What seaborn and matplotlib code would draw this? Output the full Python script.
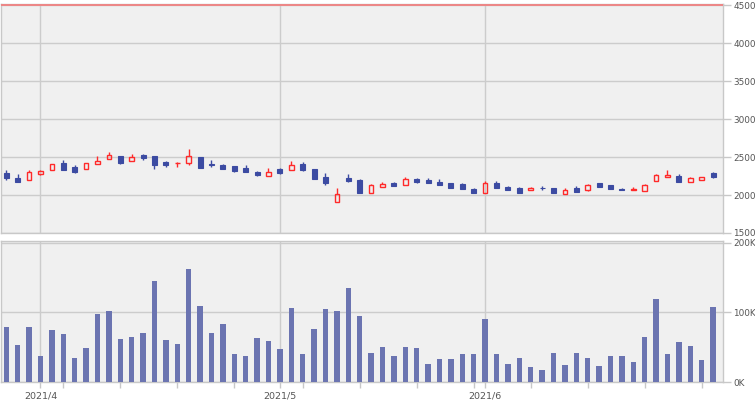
import matplotlib
matplotlib.use("Agg")
import matplotlib.pyplot as plt
import numpy as np
import pandas as pd
import seaborn as sns

# ---- data ----
holidays = ["2021-04-29", "2021-05-03", "2021-05-04", "2021-05-05"]
dates = [d for d in pd.bdate_range("2021-03-29", "2021-06-29")
         if d.strftime("%Y-%m-%d") not in holidays]

opens = [2289, 2224, 2202, 2281, 2325, 2421, 2368, 2338, 2412, 2469,
         2513, 2452, 2526, 2513, 2434, 2417, 2421, 2500, 2408, 2395,
         2382, 2355, 2303, 2254, 2338, 2333, 2408, 2342, 2237, 1912,
         2224, 2197, 2031, 2101, 2158, 2136, 2211, 2197, 2171, 2158,
         2145, 2079, 2031, 2158, 2105, 2092, 2061, 2097, 2092, 2018,
         2092, 2066, 2158, 2132, 2079, 2070, 2057, 2180, 2232, 2250,
         2175, 2197, 2289]
highs = [2329, 2276, 2329, 2329, 2403, 2461, 2395, 2417, 2513, 2566,
         2513, 2539, 2539, 2513, 2447, 2434, 2599, 2500, 2461, 2408,
         2382, 2395, 2316, 2355, 2355, 2447, 2434, 2342, 2289, 2092,
         2276, 2211, 2145, 2171, 2171, 2237, 2224, 2224, 2211, 2158,
         2158, 2092, 2184, 2184, 2118, 2105, 2105, 2118, 2092, 2092,
         2118, 2145, 2158, 2132, 2092, 2105, 2145, 2276, 2329, 2276,
         2232, 2241, 2303]
lows = [2202, 2175, 2202, 2268, 2325, 2329, 2289, 2338, 2412, 2469,
        2408, 2452, 2465, 2346, 2373, 2373, 2395, 2355, 2368, 2342,
        2303, 2307, 2254, 2254, 2281, 2333, 2320, 2211, 2132, 1912,
        2171, 2031, 2031, 2101, 2123, 2136, 2158, 2158, 2132, 2092,
        2079, 2026, 2031, 2097, 2070, 2031, 2061, 2066, 2031, 2018,
        2039, 2053, 2110, 2075, 2066, 2070, 2057, 2180, 2232, 2175,
        2175, 2197, 2224]
closes = [2228, 2175, 2303, 2311, 2403, 2329, 2307, 2417, 2443, 2526,
          2421, 2500, 2487, 2395, 2395, 2425, 2513, 2355, 2395, 2342,
          2316, 2307, 2268, 2298, 2289, 2395, 2333, 2211, 2158, 2013,
          2184, 2031, 2132, 2145, 2123, 2211, 2171, 2158, 2132, 2092,
          2079, 2026, 2158, 2097, 2070, 2031, 2092, 2088, 2031, 2066,
          2039, 2132, 2110, 2075, 2066, 2079, 2132, 2263, 2263, 2175,
          2219, 2232, 2237]
volumes = [78600, 52900, 78600, 37100, 74300, 68600, 34300, 48600, 97100, 101400,
           61400, 64300, 70000, 145700, 60000, 54300, 162900, 108600, 70000, 82900,
           40000, 37100, 62900, 58600, 47100, 105700, 40000, 75700, 104300, 101400,
           135700, 94300, 41400, 50000, 37100, 50000, 48600, 25700, 32900, 32900,
           40000, 40000, 90000, 40000, 25700, 34300, 21400, 17100, 41400, 24300,
           41400, 34300, 22900, 37100, 37100, 28600, 64300, 118600, 40000, 57100,
           51400, 31400, 107100]
price_ticks = [1500, 2000, 2500, 3000, 3500, 4000, 4500]
volume_ticks = [0, 100000, 200000]
volume_tick_labels = ["0K", "100K", "200K"]
limit_line = 4500

# ---- style ----
sns.set_style("whitegrid", {
    "axes.facecolor": "#f0f0f0",
    "axes.edgecolor": "#c8c8c8",
    "grid.color": "#cccccc",
    "axes.linewidth": 1.0,
})
plt.rcParams["font.family"] = ["DejaVu Sans"]

UP = "#ff2a2a"
DOWN = "#3c4ba2"
VOLC = "#6b74b1"
TXT = "#555555"
FS = 6.4

df = pd.DataFrame({"date": dates, "open": opens, "high": highs,
                   "low": lows, "close": closes, "volume": volumes})
df["i"] = np.arange(len(df))

fig = plt.figure(figsize=(7.55, 4.0), dpi=100)
W, H = 755, 400
ax1 = fig.add_axes([1 / W, 1 - 233 / H, 722 / W, (233 - 3.5) / H])
ax2 = fig.add_axes([1 / W, 1 - 382 / H, 722 / W, (382 - 241) / H])

xlim = (-0.465, 62.87)

# month/week ticks
month_idx = [i for i in range(1, len(df)) if df["date"][i].month != df["date"][i - 1].month]
month_labels = [f"{df['date'][i].year}/{df['date'][i].month}" for i in month_idx]
week_idx = [i for i in range(1, len(df))
            if df["date"][i].weekday() < df["date"][i - 1].weekday() and i not in month_idx]

# ---- candles ----
up = df[df["close"] >= df["open"]]
dn = df[df["close"] < df["open"]]

ax1.vlines(dn["i"], dn["low"], dn["high"], color=DOWN, lw=1.0, zorder=3)
ax1.bar(dn["i"], (dn["open"] - dn["close"]).clip(lower=4), bottom=dn["close"],
        width=0.44, color=DOWN, edgecolor=DOWN, linewidth=0.8, zorder=4)
ax1.vlines(up["i"], up["close"], up["high"], color=UP, lw=1.0, zorder=3)
ax1.vlines(up["i"], up["low"], up["open"], color=UP, lw=1.0, zorder=3)
ax1.bar(up["i"], (up["close"] - up["open"]).clip(lower=4), bottom=up["open"],
        width=0.40, fill=False, edgecolor=UP, linewidth=1.0, zorder=4)

ax1.axhline(limit_line, color="#f08080", lw=1.3, zorder=5)
ax1.set_xlim(*xlim)
ax1.set_ylim(1500, 4520)
ax1.yaxis.tick_right()
ax1.set_yticks(price_ticks)
ax1.set_xticks(month_idx)
ax1.set_xticklabels([])
ax1.tick_params(axis="x", length=0)
ax1.tick_params(axis="y", direction="out", length=6, width=1, color="#c8c8c8",
                labelcolor=TXT, labelsize=FS, pad=1.5)
ax1.grid(True, color="#cccccc", lw=1)
ax1.set_axisbelow(True)

# ---- volume ----
sns.barplot(data=df, x="i", y="volume", native_scale=True, color=VOLC,
            saturation=1, width=0.46, errorbar=None, linewidth=0, ax=ax2, zorder=3)
ax2.set_xlim(*xlim)
ax2.set_ylim(0, 202500)
ax2.yaxis.tick_right()
ax2.set_yticks(volume_ticks)
ax2.set_yticklabels(volume_tick_labels)
ax2.set_xticks(month_idx)
ax2.set_xticklabels(month_labels)
ax2.set_xticks(week_idx, minor=True)
ax2.tick_params(axis="x", which="both", direction="out", length=4, width=1,
                color="#c8c8c8", labelcolor=TXT, labelsize=FS + 0.4, pad=3, bottom=True)
ax2.tick_params(axis="y", direction="out", length=6, width=1, color="#c8c8c8",
                labelcolor=TXT, labelsize=FS, pad=1.5)
ax2.set_xlabel("")
ax2.set_ylabel("")
ax2.grid(True, which="major", color="#cccccc", lw=1)
ax2.set_axisbelow(True)

for ax in (ax1, ax2):
    for s in ax.spines.values():
        s.set_color("#c8c8c8")
        s.set_linewidth(1.0)

fig.savefig("out.png", dpi=100, facecolor="white")
